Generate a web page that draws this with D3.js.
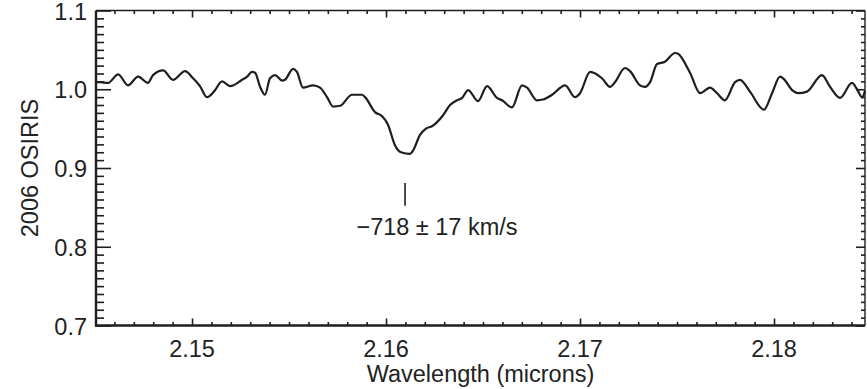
<!DOCTYPE html>
<html><head><meta charset="utf-8">
<script src="https://cdn.jsdelivr.net/npm/d3@7"></script>
<style>
body{margin:0;background:#fff}
svg{display:block}
text{font-family:"Liberation Sans",Arial,Helvetica,sans-serif;fill:#222}
</style>
</head><body>
<svg id="c" width="867" height="389"></svg>
<script>
// ---- data ----
const wavelength=[2.14505,2.14526,2.14567,2.14619,2.14670,2.14722,2.14773,2.14799,2.14851,2.14902,2.14964,2.15005,2.15041,2.15077,2.15113,2.15155,2.15196,2.15258,2.15284,2.15309,2.15325,2.15351,2.15376,2.15402,2.15428,2.15464,2.15479,2.15521,2.15541,2.15572,2.15624,2.15660,2.15696,2.15727,2.15763,2.15825,2.15876,2.15892,2.15943,2.15979,2.16010,2.16046,2.16077,2.16124,2.16139,2.16175,2.16206,2.16237,2.16294,2.16330,2.16366,2.16392,2.16423,2.16474,2.16521,2.16572,2.16598,2.16649,2.16701,2.16727,2.16778,2.16809,2.16856,2.16923,2.16974,2.17000,2.17052,2.17113,2.17155,2.17180,2.17232,2.17258,2.17309,2.17335,2.17361,2.17397,2.17438,2.17490,2.17505,2.17567,2.17619,2.17670,2.17706,2.17747,2.17799,2.17825,2.17876,2.17948,2.17990,2.18031,2.18046,2.18098,2.18124,2.18170,2.18247,2.18289,2.18340,2.18402,2.18428,2.18454,2.18469];
const flux=[1.009,1.009,1.008,1.019,1.005,1.016,1.008,1.018,1.024,1.012,1.023,1.014,1.004,0.990,0.997,1.010,1.004,1.012,1.016,1.022,1.021,1.003,0.993,1.014,1.018,1.011,1.012,1.026,1.022,1.002,1.005,1.002,0.990,0.978,0.979,0.993,0.993,0.990,0.971,0.966,0.955,0.929,0.920,0.918,0.922,0.942,0.950,0.953,0.967,0.980,0.986,0.989,0.999,0.985,1.004,0.989,0.986,0.977,1.005,1.002,0.986,0.987,0.993,1.005,0.990,0.995,1.022,1.014,1.003,1.009,1.027,1.023,1.005,1.003,1.009,1.032,1.035,1.046,1.045,1.021,0.995,1.002,0.995,0.986,1.009,1.012,0.997,0.974,0.995,1.016,1.014,0.998,0.995,0.997,1.018,1.003,0.989,1.008,1.000,0.990,0.998];
const xMajorTicks=[2.15,2.16,2.17,2.18];
const xTickLabels=["2.15","2.16","2.17","2.18"];
const yMajorTicks=[0.7,0.8,0.9,1.0,1.1];
const yTickLabels=["0.7","0.8","0.9","1.0","1.1"];
const xDomain=[2.14505,2.18469];
const yDomain=[0.7,1.1];
const markerX=2.16098;
const markerY=[0.881,0.852];
const annotationText="\u2212718 \u00b1 17 km/s";
const xTitle="Wavelength (microns)";
const yTitle="2006 OSIRIS";

// ---- layout ----
const L=96,R=865,T=10.5,B=325.5;
const svg=d3.select("#c");
const x=d3.scaleLinear().domain(xDomain).range([L,R]);
const y=d3.scaleLinear().domain(yDomain).range([B,T]);
const ink="#1e1e1e";

const xMinor=d3.range(2.146,2.1847,0.001).filter(v=>!xMajorTicks.some(m=>Math.abs(m-v)<1e-6));
const yMinor=d3.range(0.71,1.1,0.01).filter(v=>!yMajorTicks.some(m=>Math.abs(m-v)<1e-6));

function axis(gen,ticks,size,tr){
  const g=svg.append("g").attr("transform",tr)
    .call(gen.tickValues(ticks).tickSize(size).tickSizeOuter(0).tickFormat(""));
  g.select(".domain").remove();
  g.selectAll(".tick line").attr("stroke",ink).attr("stroke-width",1.6);
  return g;
}
// bottom (ticks inward = up)
axis(d3.axisTop(x),xMajorTicks,7,`translate(0,${B})`);
axis(d3.axisTop(x),xMinor,3.5,`translate(0,${B})`);
// top (ticks down)
axis(d3.axisBottom(x),xMajorTicks,7,`translate(0,${T})`);
axis(d3.axisBottom(x),xMinor,3.5,`translate(0,${T})`);
// left (ticks right)
axis(d3.axisRight(y),yMajorTicks,15,`translate(${L},0)`);
axis(d3.axisRight(y),yMinor,8,`translate(${L},0)`);
// right (ticks left)
axis(d3.axisLeft(y),yMajorTicks,9,`translate(${R},0)`);
axis(d3.axisLeft(y),yMinor,4,`translate(${R},0)`);

// frame
svg.append("line").attr("x1",L).attr("x2",R).attr("y1",T).attr("y2",T).attr("stroke",ink).attr("stroke-width",1.6);
svg.append("line").attr("x1",R).attr("x2",R).attr("y1",T).attr("y2",B).attr("stroke",ink).attr("stroke-width",1.4);
svg.append("line").attr("x1",L).attr("x2",L).attr("y1",T).attr("y2",B+1).attr("stroke",ink).attr("stroke-width",2.4);
svg.append("line").attr("x1",L-1).attr("x2",R).attr("y1",B).attr("y2",B).attr("stroke",ink).attr("stroke-width",2.6);

// spectrum
const pts=wavelength.map((w,i)=>[w,flux[i]]);
svg.append("path").datum(pts)
  .attr("d",d3.line().curve(d3.curveMonotoneX).x(d=>x(d[0])).y(d=>y(d[1])))
  .attr("fill","none").attr("stroke",ink).attr("stroke-width",2.2).attr("stroke-linejoin","round");

// tick labels
svg.append("g").selectAll("text").data(xMajorTicks).join("text")
  .attr("x",d=>x(d)).attr("y",357).attr("text-anchor","middle")
  .attr("font-size",23.5).text((d,i)=>xTickLabels[i]);
svg.append("g").selectAll("text").data(yMajorTicks).join("text")
  .attr("x",87).attr("y",d=>y(d)+9).attr("text-anchor","end")
  .attr("font-size",23.5).text((d,i)=>yTickLabels[i]);

// titles
svg.append("text").attr("x",(L+R)/2).attr("y",382).attr("text-anchor","middle")
  .attr("font-size",23.5).text(xTitle);
svg.append("text").attr("transform",`translate(38,${(T+B)/2}) rotate(-90)`)
  .attr("text-anchor","middle").attr("font-size",23.5).text(yTitle);

// annotation
svg.append("line").attr("x1",x(markerX)).attr("x2",x(markerX))
  .attr("y1",y(markerY[0])).attr("y2",y(markerY[1])).attr("stroke",ink).attr("stroke-width",1.6);
svg.append("text").attr("x",437).attr("y",235).attr("text-anchor","middle")
  .attr("font-size",23.5).text(annotationText);
</script>
</body></html>
